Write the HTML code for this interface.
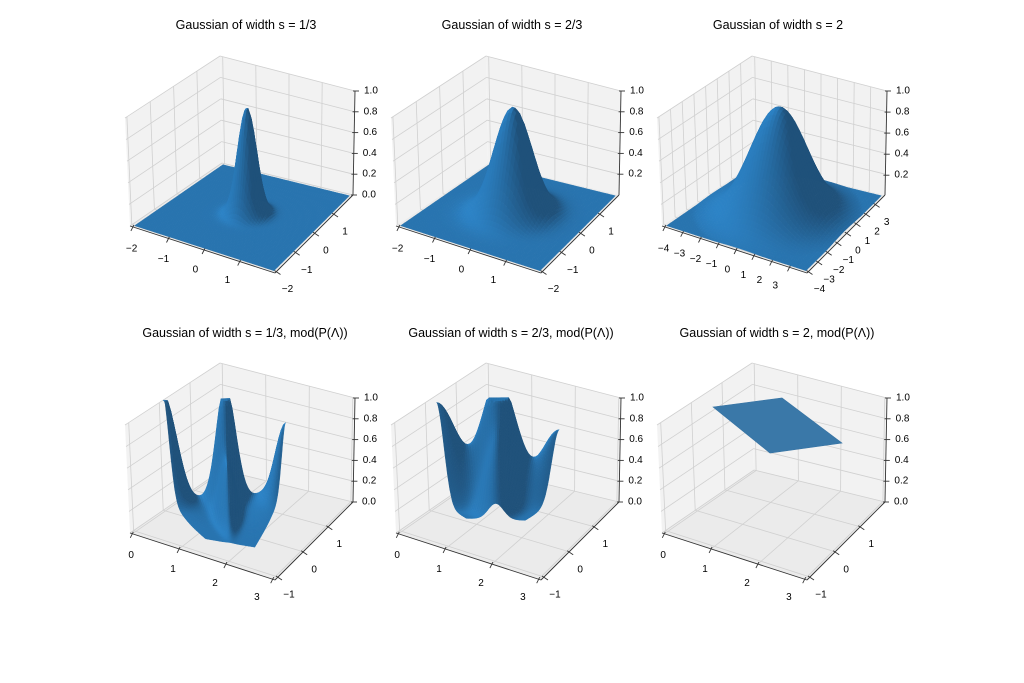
<!DOCTYPE html>
<html><head><meta charset="utf-8">
<style>
html,body{margin:0;padding:0;background:#fff;}
svg{display:block;}
text{font-family:"Liberation Sans","DejaVu Sans",sans-serif;fill:#000;}
</style></head>
<body>
<svg id="s" width="1024" height="683" viewBox="0 0 1024 683" xmlns="http://www.w3.org/2000/svg">
<rect width="1024" height="683" fill="#fff"/>
<text x="246" y="29" font-size="12.5" text-anchor="middle">Gaussian of width s = 1/3</text>
<text x="512" y="29" font-size="12.5" text-anchor="middle">Gaussian of width s = 2/3</text>
<text x="778" y="29" font-size="12.5" text-anchor="middle">Gaussian of width s = 2</text>
<text x="245" y="337" font-size="12.5" text-anchor="middle">Gaussian of width s = 1/3, mod(P(Λ))</text>
<text x="511" y="337" font-size="12.5" text-anchor="middle">Gaussian of width s = 2/3, mod(P(Λ))</text>
<text x="777" y="337" font-size="12.5" text-anchor="middle">Gaussian of width s = 2, mod(P(Λ))</text>
</svg>
<script>
(function(){
var svg=document.getElementById('s');var NS='http://www.w3.org/2000/svg';
var out=[];
function add(s){out.push(s);}
var L=[130,226],F=[275,273],R=[353,195],B=[222,163];
var CL=[-5,-108],CF=[2,-107],CR=[2,-104],CB=[-2,-107];
function mk(dx,dy){
 return function(a,b,z){
  var w1=(1-a)*(1-b),w2=a*(1-b),w3=a*b,w4=(1-a)*b;
  var x=w1*L[0]+w2*F[0]+w3*R[0]+w4*B[0]+dx;
  var y=w1*L[1]+w2*F[1]+w3*R[1]+w4*B[1]+dy;
  x+=z*(w1*CL[0]+w2*CF[0]+w3*CR[0]+w4*CB[0]);
  y+=z*(w1*CL[1]+w2*CF[1]+w3*CR[1]+w4*CB[1]);
  return [x,y];};
}
function pt(p){return p[0].toFixed(1)+','+p[1].toFixed(1);}
function poly(ps,fill,extra){add('<polygon points="'+ps.map(pt).join(' ')+'" fill="'+fill+'" '+(extra||'')+'/>');}
function line(p,q,c,w){add('<line x1="'+p[0].toFixed(1)+'" y1="'+p[1].toFixed(1)+'" x2="'+q[0].toFixed(1)+'" y2="'+q[1].toFixed(1)+'" stroke="'+c+'" stroke-width="'+w+'"/>');}
function txt(p,s,anchor){add('<text x="'+p[0].toFixed(1)+'" y="'+p[1].toFixed(1)+'" font-size="10" text-anchor="'+anchor+'" dominant-baseline="central">'+s+'</text>');}
function fmt(v){return v<0?'\u2212'+(-v):''+v;}

function axes(P,xr,yr,xt,yt,zt){
 poly([P(0,0,0),P(0,1,0),P(0,1,1),P(0,0,1)],'#f2f2f2');
 poly([P(0,1,0),P(1,1,0),P(1,1,1),P(0,1,1)],'#f2f2f2');
 poly([P(0,0,0),P(1,0,0),P(1,1,0),P(0,1,0)],'#ebebeb');
 var gc='#d0d0d0';
 xt.forEach(function(t){var a=(t-xr[0])/(xr[1]-xr[0]);
  line(P(a,0,0),P(a,1,0),gc,0.8);line(P(a,1,0),P(a,1,1),gc,0.8);});
 yt.forEach(function(t){var b=(t-yr[0])/(yr[1]-yr[0]);
  line(P(0,b,0),P(1,b,0),gc,0.8);line(P(0,b,0),P(0,b,1),gc,0.8);});
 zt.forEach(function(t){line(P(0,0,t),P(0,1,t),gc,0.8);line(P(0,1,t),P(1,1,t),gc,0.8);});
 var ac='#333';
 line(P(0,0,0),P(1,0,0),ac,0.9);line(P(1,0,0),P(1,1,0),ac,0.9);line(P(1,1,0),P(1,1,1),ac,0.9);
 xt.forEach(function(t){var a=(t-xr[0])/(xr[1]-xr[0]);var p=P(a,0,0);
  line([p[0]+1,p[1]-2],[p[0]-2,p[1]+4],ac,0.9);
  txt([p[0]-1-15*a,p[1]+22-4*a],fmt(t),'middle');});
 yt.forEach(function(t){var b=(t-yr[0])/(yr[1]-yr[0]);var p=P(1,b,0);
  line([p[0]-2,p[1]-1],[p[0]+4,p[1]+3],ac,0.9);
  txt([p[0]+11,p[1]+18],fmt(t),'middle');});
}
function zlabels(P,zt,lab){
 zt.forEach(function(t,i){var p=P(1,1,t);
  line([p[0]-2,p[1]],[p[0]+4,p[1]],'#333',0.9);
  txt([p[0]+9,p[1]],lab[i],'start');});
}
function surface(P,N,f,domain){
 var A=[],Z=[];
 for(var i=0;i<=N;i++){A[i]=[];Z[i]=[];for(var j=0;j<=N;j++){var u=i/N,v=j/N;A[i][j]=domain(u,v);Z[i][j]=f(u,v);}}
 var quads=[];
 var lv=[-0.55,-0.45,0.7];var ln=Math.hypot(lv[0],lv[1],lv[2]);lv=lv.map(function(x){return x/ln;});
 for(var i=0;i<N;i++)for(var j=0;j<N;j++){
  var p00=A[i][j],p10=A[i+1][j],p11=A[i+1][j+1],p01=A[i][j+1];
  var z00=Z[i][j],z10=Z[i+1][j],z11=Z[i+1][j+1],z01=Z[i][j+1];
  var d1=[p11[0]-p00[0],p11[1]-p00[1],(z11-z00)*0.8];
  var d2=[p01[0]-p10[0],p01[1]-p10[1],(z01-z10)*0.8];
  var n=[d1[1]*d2[2]-d1[2]*d2[1],d1[2]*d2[0]-d1[0]*d2[2],d1[0]*d2[1]-d1[1]*d2[0]];
  var nl=Math.hypot(n[0],n[1],n[2])||1;n=n.map(function(x){return x/nl;});
  if(n[2]<0)n=n.map(function(x){return -x;});
  var d=n[0]*lv[0]+n[1]*lv[1]+n[2]*lv[2];
  var k=0.68+0.42*Math.max(0,d);
  var col='rgb('+Math.min(255,Math.round(31*k+10))+','+Math.min(255,Math.round(119*k))+','+Math.min(255,Math.round(180*k))+')';
  var ca=(p00[0]+p11[0]+p10[0]+p01[0])/4,cb=(p00[1]+p11[1]+p10[1]+p01[1])/4,cz=(z00+z10+z11+z01)/4;
  var depth=(1-ca)+cb-cz*0.25;
  quads.push([depth,[P(p00[0],p00[1],z00),P(p10[0],p10[1],z10),P(p11[0],p11[1],z11),P(p01[0],p01[1],z01)],col]);
 }
 quads.sort(function(a,b){return b[0]-a[0];});
 quads.forEach(function(q){poly(q[1],q[2],'stroke="'+q[2]+'" stroke-width="0.45" stroke-linejoin="round"');});
}
var cols=[0,266,532];
var specs=[{s:1/3,r:2,xt:[-2,-1,0,1],N:64},{s:2/3,r:2,xt:[-2,-1,0,1],N:48},{s:2,r:4,xt:[-4,-3,-2,-1,0,1,2,3],N:48}];
specs.forEach(function(sp,c){
 var P=mk(cols[c],0);var r=sp.r;var xr=[-r*1.04,r*0.995];
 axes(P,xr,xr,sp.xt,sp.xt,c==0?[0,0.2,0.4,0.6,0.8,1]:[0.2,0.4,0.6,0.8,1]);
 var dmin=(-r-xr[0])/(xr[1]-xr[0]),dmax=(r*0.96-xr[0])/(xr[1]-xr[0]);
 var zmin=c==2?0.012:0;
 surface(P,sp.N,function(u,v){var x=-r+u*r*1.96,y=-r+v*r*1.96;
   var z=Math.exp(-(x*x+y*y)/(sp.s*sp.s));return Math.max(0,(z-zmin)/(1-zmin));},
  function(u,v){return [dmin+u*(dmax-dmin),dmin+v*(dmax-dmin)];});
 if(c==0)zlabels(P,[0,0.2,0.4,0.6,0.8,1],['0.0','0.2','0.4','0.6','0.8','1.0']);
 else{var zz=[0.2,0.4,0.6,0.8,1].map(function(t){return (t-zmin)/(1-zmin);});zlabels(P,zz,['0.2','0.4','0.6','0.8','1.0']);}
});
var bxr=[-0.05,3.05],byr=[-1.12,1.98];
function quadDom(FL,FR,BR,BL){return function(u,v){
 var w1=(1-u)*(1-v),w2=u*(1-v),w3=u*v,w4=(1-u)*v;
 return [w1*FL[0]+w2*FR[0]+w3*BR[0]+w4*BL[0],w1*FL[1]+w2*FR[1]+w3*BR[1]+w4*BL[1]];};}
function g(u,v,u0,v0,su,sv){return Math.exp(-((u-u0)*(u-u0))/(2*su*su)-((v-v0)*(v-v0))/(2*sv*sv));}
for(var c=0;c<3;c++){
 var P=mk(cols[c],307);
 axes(P,bxr,byr,[0,1,2,3],[-1,0,1],[0,0.2,0.4,0.6,0.8,1]);
 if(c==0){
  surface(P,56,function(u,v){
   var z=0.95*g(u,v,0,1,0.09,0.12)+1.0*g(u,v,0.5,1,0.08,0.12)+0.62*g(u,v,1,1,0.08,0.12)+0.5*g(u,v,0.5,0.62,0.07,0.2)
    +0.1*g(u,v,0,1,0.25,0.3)+0.1*g(u,v,1,1,0.25,0.3);
   return Math.min(1,z+0.02);},quadDom([0.42,0.17],[0.725,0.24],[0.59,0.835],[0.0,0.40]));
 }else if(c==1){
  surface(P,50,function(u,v){
   var z=0.93*g(u,v,0,1,0.16,0.22)+1.0*g(u,v,0.5,1,0.15,0.22)+0.66*g(u,v,1,1,0.15,0.22)+0.6*g(u,v,0.5,0.5,0.13,0.3);
   return Math.min(1,z+0.02);},quadDom([0.26,0.37],[0.585,0.53],[0.64,0.845],[0.015,0.455]));
 }else{
  poly([[713,407],[782,398],[842,443],[770,453]],'#3a78a8','stroke="#3673a3" stroke-width="0.6"');
 }
 zlabels(P,[0,0.2,0.4,0.6,0.8,1],['0.0','0.2','0.4','0.6','0.8','1.0']);
}
var g0=document.createElementNS(NS,'g');g0.innerHTML=out.join('');svg.appendChild(g0);
})();
</script>
</body></html>
